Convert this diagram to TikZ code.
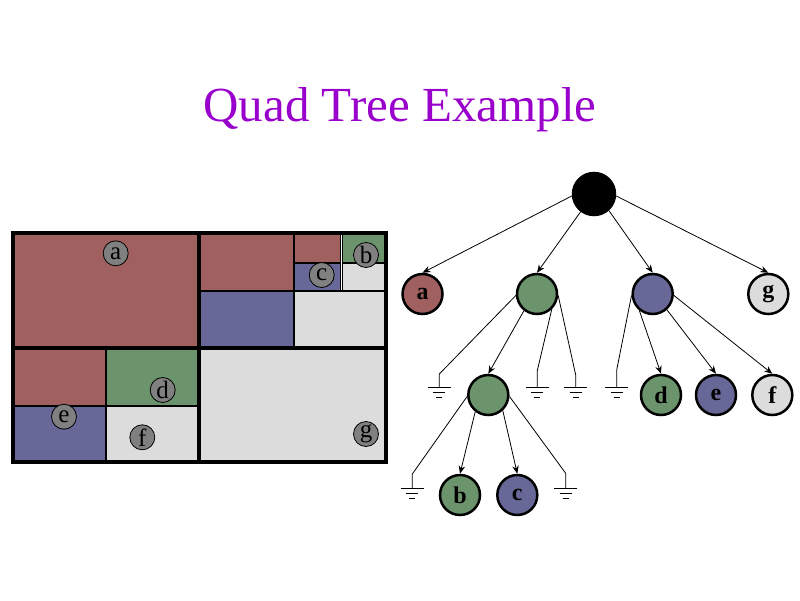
\documentclass[tikz,border=0pt]{standalone}
\usepackage{fontspec}
\setmainfont{Liberation Serif}
\usetikzlibrary{arrows.meta}

\definecolor{qred}{RGB}{160,96,96}
\definecolor{qgreen}{RGB}{108,148,108}
\definecolor{qblue}{RGB}{104,104,152}
\definecolor{qlight}{RGB}{220,220,220}
\definecolor{qgray}{RGB}{128,128,128}
\definecolor{titlepurple}{RGB}{153,0,204}

\begin{document}
\begin{tikzpicture}[x=1pt, y=-1pt, line width=0.8pt, >={Stealth[length=8pt,width=6.5pt]},
  tnode/.style={circle, draw, line width=2.5pt, minimum size=40pt, inner sep=0pt, font=\fontsize{24}{24}\selectfont\bfseries},
  qlabel/.style={circle, draw, fill=qgray, line width=0.8pt, minimum size=25pt, inner sep=0pt, font=\fontsize{25}{25}\selectfont},
  ground/.pic={\draw (-11.5,0) -- (11.5,0) (-6,5) -- (6,5) (-3,10) -- (3,10);}]

\useasboundingbox (0,0) rectangle (800,600);

\node [anchor=base, text=titlepurple, font=\fontsize{49}{49}\selectfont] (title) at (400,121) {Quad Tree Example};

% the quad tree regions
\fill [qred] (13,233) rectangle (199,348);
\fill [qred] (199,233) rectangle (294,291);
\fill [qblue] (199,291) rectangle (294,348);
\fill [qlight] (294,291) rectangle (386,348);
\fill [qred] (294,233) rectangle (342,262.7);
\fill [qgreen] (342,233) rectangle (386,262.7);
\fill [qblue] (294,262.7) rectangle (342,291);
\fill [qlight] (342,262.7) rectangle (386,291);
\fill [qred] (13,348) rectangle (106,406);
\fill [qgreen] (106,348) rectangle (199,406);
\fill [qblue] (13,406) rectangle (106,462);
\fill [qlight] (106,406) rectangle (199,462);
\fill [qlight] (199,348) rectangle (386,462);

\draw [line width=2pt] (294,262.7) -- (386,262.7);
\draw [line width=0.8pt, double=white, double distance=1pt] (341.5,233) -- (341.5,291);
\draw [line width=2.5pt] (294,233) -- (294,348) (199,291) -- (386,291)
                         (106,348) -- (106,462) (13,406) -- (199,406);
\draw [line width=3.3pt] (199,233) -- (199,462) (13,348) -- (386,348);
\draw [line width=3.5pt] (13,233) rectangle (386,462);

\node [qlabel] (la) at (115.7,253.3) {a};
\node [qlabel] (lb) at (366,255) {b};
\node [qlabel] (lc) at (321.7,275) {c};
\node [qlabel] (ld) at (162.7,390) {d};
\node [qlabel] (le) at (64,416.7) {e};
\node [qlabel] (lf) at (142.3,437.3) {f};
\node [qlabel] (lg) at (366,434) {g};

% the tree
\node [tnode, fill=black, minimum size=42pt] (root) at (594,194) {};
\node [tnode, fill=qred] (ta) at (422.5,294) {a};
\node [tnode, fill=qgreen] (q1) at (537,294) {};
\node [tnode, fill=qblue] (q2) at (652.7,294) {};
\node [tnode, fill=qlight] (tg) at (768.3,294) {g};
\node [tnode, fill=qgreen] (q3) at (488.3,395) {};
\node [tnode, fill=qgreen] (td) at (661,395) {d};
\node [tnode, fill=qblue] (te) at (716,395) {e};
\node [tnode, fill=qlight] (tf) at (772.3,395) {f};
\node [tnode, fill=qgreen] (tb) at (460,495) {b};
\node [tnode, fill=qblue] (tc) at (517.3,495) {c};

\coordinate (s1) at (439.3,374);   \coordinate (g1) at (439.3,387.3);
\coordinate (s2) at (537.3,370.7); \coordinate (g2) at (537.3,387.3);
\coordinate (s3) at (575.7,375);   \coordinate (g3) at (575.7,387.3);
\coordinate (s4) at (616.7,370);   \coordinate (g4) at (616.7,387.3);
\coordinate (s5) at (412.3,474);   \coordinate (g5) at (412.3,488.3);
\coordinate (s6) at (565.7,473.3); \coordinate (g6) at (565.7,488.3);

\foreach \g in {g1,g2,g3,g4,g5,g6}
  \pic at (\g) {ground};

\draw [->] (root.185) -- (ta.north);
\draw [->] (root.233) -- (q1.north);
\draw [->] (root.312) -- (q2.north);
\draw [->] (root.355) -- (tg.north);

\draw (q1.184) -- (s1) -- (g1);
\draw [->] (q1.232) -- (q3.north);
\draw (q1.314) -- (s2) -- (g2);
\draw (q1.356) -- (s3) -- (g3);

\draw (q2.184) -- (s4) -- (g4);
\draw [->] (q2.231) -- (td.north);
\draw [->] (q2.312) -- (te.north);
\draw [->] (q2.356) -- (tf.north);

\draw (q3.184) -- (s5) -- (g5);
\draw [->] (q3.232) -- (tb.north);
\draw [->] (q3.313) -- (tc.north);
\draw (q3.356) -- (s6) -- (g6);

\end{tikzpicture}
\end{document}
